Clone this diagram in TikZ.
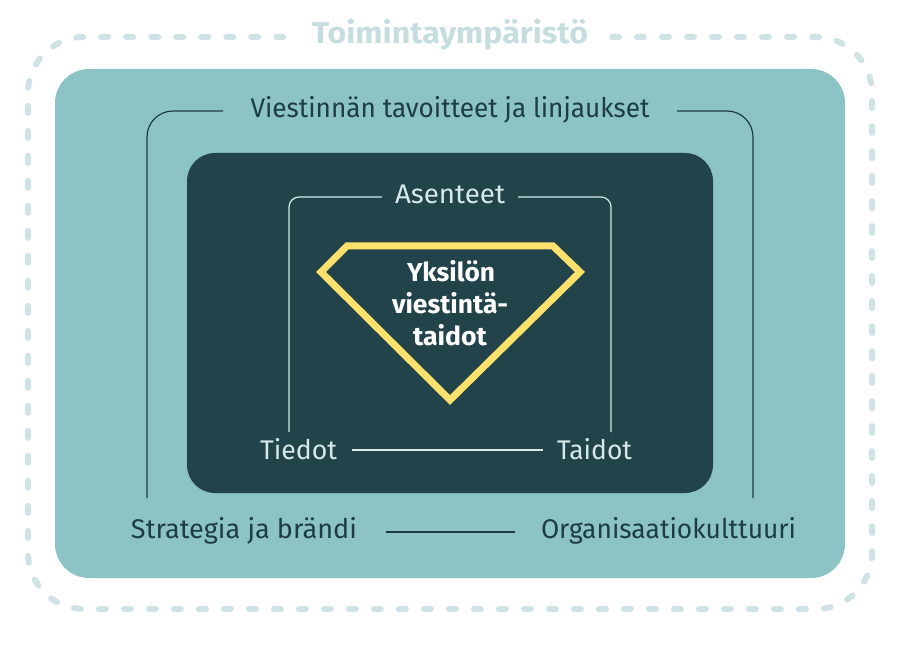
\documentclass[tikz,border=0pt]{standalone}
\usepackage{fontspec}
\setmainfont{Fira Sans}
\usepackage{graphicx}
\definecolor{tealbg}{HTML}{8CC4C6}
\definecolor{darkbg}{HTML}{22434A}
\definecolor{darktext}{HTML}{1E3D43}
\definecolor{lighttext}{HTML}{D5E8EA}
\definecolor{dashc}{HTML}{CFE3E6}
\definecolor{toimc}{HTML}{C6DDE0}
\definecolor{gold}{HTML}{FCE26D}
\newcommand\fitto[2]{\resizebox{#1}{\height}{#2}}
\tikzset{
  lbl/.style={anchor=base, inner sep=0pt, font=\fontsize{27}{30}\selectfont},
  darklbl/.style={lbl, text=darktext},
  lightlbl/.style={lbl, text=lighttext},
  corelbl/.style={anchor=base, inner sep=0pt, text=white, font=\fontsize{26}{30}\bfseries\selectfont},
  outerline/.style={draw=darktext, line width=1.2pt, rounded corners=26pt},
  innerline/.style={draw=lighttext, line width=1.2pt, rounded corners=10pt},
  envline/.style={draw=dashc, line width=6pt, line cap=round, dash pattern=on 7pt off 18pt, rounded corners=56pt},
}
\begin{document}
\begin{tikzpicture}[x=1pt,y=-1pt]
\useasboundingbox (0,0) rectangle (900,647);
% environment
\node[anchor=base, inner sep=0pt, text=toimc, font=\fontsize{30}{32}\bfseries\selectfont] (toim) at (450,44) {\fitto{276pt}{Toimintaympäristö}};
\coordinate (eA) at (612,37);
\coordinate (eB) at (872,609);
\coordinate (eC) at (28,37);
\coordinate (eD) at (288,37);
\draw[envline] (eA) -| (eB) -| (eC) -- (eD);
% boxes
\fill[tealbg, rounded corners=34pt] (55,69) rectangle (845,578);
\fill[darkbg, rounded corners=28pt] (187,153) rectangle (713,493);
% outer labels
\node[darklbl] (viest) at (450,118) {\fitto{399pt}{Viestinnän tavoitteet ja linjaukset}};
\node[darklbl] (strat) at (244,538) {\fitto{226pt}{Strategia ja brändi}};
\node[darklbl] (org) at (668.5,538) {\fitto{255pt}{Organisaatiokulttuuri}};
\coordinate (oL1) at (223,111);
\coordinate (oL2) at (147,498);
\coordinate (oR1) at (677,111);
\coordinate (oR2) at (753,498);
\coordinate (b1) at (386,532);
\coordinate (b2) at (515,532);
\draw[outerline] (oL1) -| (oL2);
\draw[outerline] (oR1) -| (oR2);
\draw[outerline] (b1) -- (b2);
% inner labels
\node[lightlbl] (asen) at (450,204) {\fitto{110pt}{Asenteet}};
\node[lightlbl] (tied) at (298.5,459) {\fitto{77pt}{Tiedot}};
\node[lightlbl] (taid) at (594.5,459) {\fitto{75pt}{Taidot}};
\coordinate (iL1) at (382,197);
\coordinate (iL2) at (289,432);
\coordinate (iR1) at (518,197);
\coordinate (iR2) at (611,432);
\coordinate (m1) at (352,450);
\coordinate (m2) at (543,450);
\draw[innerline] (iL1) -| (iL2);
\draw[innerline] (iR1) -| (iR2);
\draw[innerline] (m1) -- (m2);
% diamond
\draw[gold, line width=7pt, line join=miter] (347,246) -- (553,246) -- (580,272) -- (450,400) -- (321,272) -- cycle;
\node[corelbl] (c1) at (451,281) {\fitto{88pt}{Yksilön}};
\node[corelbl] (c2) at (450,313) {\fitto{116pt}{viestintä-}};
\node[corelbl] (c3) at (450,345) {\fitto{74pt}{taidot}};
\end{tikzpicture}
\end{document}
